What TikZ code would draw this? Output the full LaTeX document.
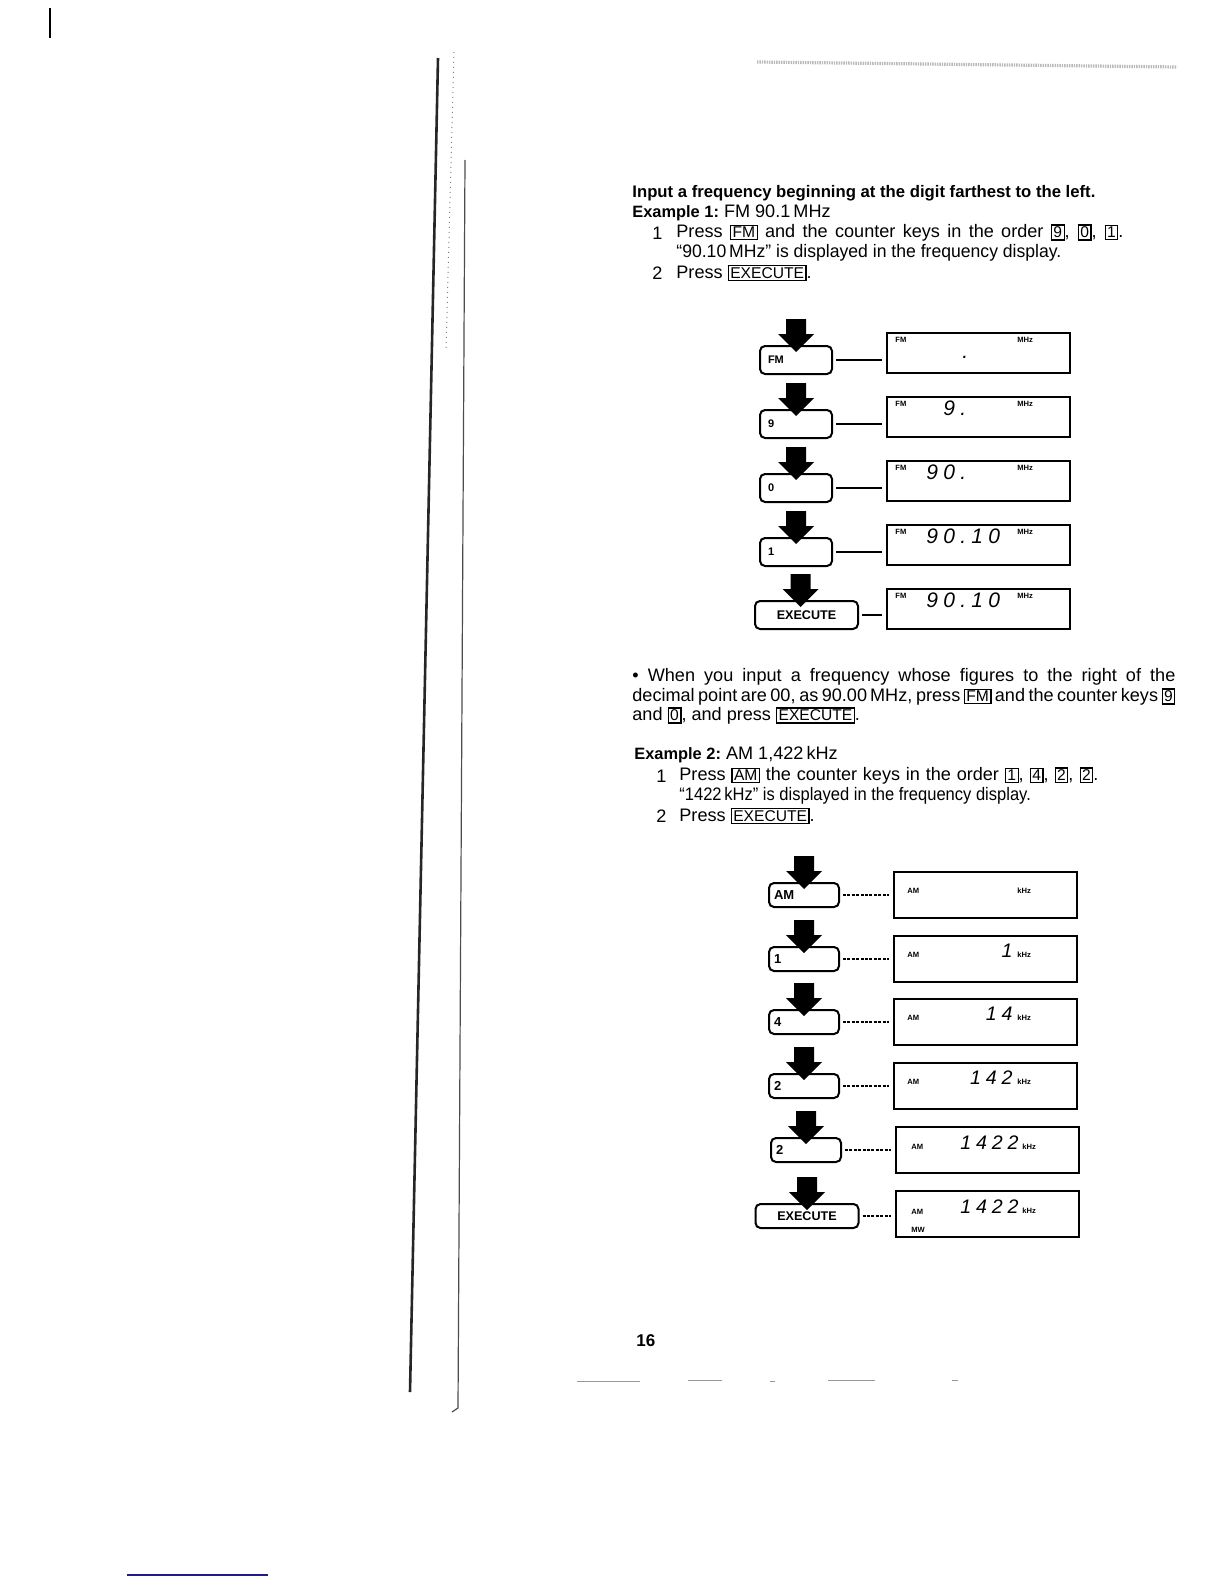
\documentclass[tikz,border=0pt]{standalone}
\usepackage{fontspec}
\usepackage{graphicx}
\setmainfont{Liberation Sans}
\newfontfamily\lcdfont{Liberation Sans}[LetterSpace=25]
\definecolor{inkblue}{RGB}{28,28,140}
\newcommand\body{\fontsize{9.05}{10}\selectfont}
\newcommand\keyb[1]{{\setlength\fboxsep{0.7pt}\setlength\fboxrule{0.6pt}\fbox{\fontsize{7.8}{8}\selectfont#1}}}
\tikzset{
  txt/.style={font=\body, inner sep=0pt, anchor=west},
  capbase/.style={draw, line width=1pt, rounded corners=2.5pt, minimum height=14pt, inner sep=0pt},
  keycap/.style={capbase, minimum width=36pt, text width=28pt, align=left, font=\fontsize{5.5}{6}\selectfont\bfseries},
  amcap/.style={capbase, minimum width=35pt, minimum height=12pt, text width=30pt, align=left, font=\fontsize{6.5}{7}\selectfont\bfseries},
  execcap/.style={capbase, minimum width=51.5pt, font=\fontsize{6.3}{7}\selectfont\bfseries},
  lcdbox/.style={draw, line width=0.75pt, minimum width=91.5pt, minimum height=20pt},
  amlcd/.style={lcdbox, minimum height=23pt},
  lcdtag/.style={anchor=west, inner sep=0pt, font=\fontsize{3.8}{4}\selectfont\bfseries},
  lcdnum/.style={anchor=base west, inner sep=0pt, font=\lcdfont\itshape\fontsize{10.5}{12}\selectfont},
  amnum/.style={anchor=base east, inner sep=0pt, font=\lcdfont\itshape\fontsize{9.8}{11}\selectfont},
  wire/.style={line width=0.6pt, shorten <=1.5pt, shorten >=2pt},
  dotwire/.style={wire, dash pattern=on 1.5pt off 0.7pt},
  pressarrow/.pic={\fill (0,7) -- (-18,-11) -- (-10,-11) -- (-10,-26) -- (10,-26) -- (10,-11) -- (18,-11) -- cycle;}
}
\begin{document}
\begin{tikzpicture}[x=0.5pt, y=-0.5pt]
    \useasboundingbox (0,0) rectangle (1224,1584);
    % edges of the scanned page
    \draw[line width=1.2pt] (50,8) -- (50,38);
    \draw[line width=1.3pt, black!85] (438,58) -- (410,1392);
    \draw[line width=0.5pt, gray, dotted] (454,52) -- (446,350);
    \draw[line width=0.6pt, black!70] (465,160) -- (458,1408) -- (452,1412);
    \draw[gray!55, line width=1.6pt, dash pattern=on 0.7pt off 0.5pt] (757,62) -- (1177,67);
    \draw[gray!80, line width=0.5pt] (577,1381) -- (640,1381) (688,1380) -- (722,1380) (770,1381) -- (775,1381) (828,1380) -- (875,1380) (952,1380) -- (958,1380);
    \draw[line width=0.8pt, inkblue] (127,1575) -- (268,1575);

    % example 1
    \node[txt, font=\fontsize{8.35}{10}\selectfont\bfseries] (head) at (632,193) {Input a frequency beginning at the digit farthest to the left.};
    \node[txt] (ex1) at (632,213) {{\fontsize{8.2}{10}\selectfont\bfseries Example 1:}\ FM 90.1\,MHz};
    \node[txt] (s1) at (652,233) {1};
    \node[txt] (s1a) at (676,233) {\makebox[223.5pt][s]{Press \keyb{FM} and the counter keys in the order \keyb{9}, \keyb{0}, \keyb{1}.}};
    \node[txt] (s1b) at (676,253) {\scalebox{0.972}[1]{“90.10\,MHz” is displayed in the frequency display.}};
    \node[txt] (s2) at (652,273) {2};
    \node[txt] (s2a) at (676,273) {Press \keyb{EXECUTE}.};

    \node[keycap] (kfm) at (796,360) {FM};
    \node[lcdbox] (dfm) at (978.5,353) {};
    \draw[wire] (kfm.east) -- (kfm.east -| dfm.west);
    \pic at (kfm.north) {pressarrow};
    \node[lcdtag] (tfm0) at (895,340) {FM};
    \node[lcdtag] (mhz0) at (1017,340) {MHz};
    \node[lcdnum] (fd0) at (962,358) {.};

    \node[keycap] (k9) at (796,424) {9};
    \node[lcdbox] (d9) at (978.5,417) {};
    \draw[wire] (k9.east) -- (k9.east -| d9.west);
    \pic at (k9.north) {pressarrow};
    \node[lcdtag] (tfm1) at (895,404) {FM};
    \node[lcdtag] (mhz1) at (1017,404) {MHz};
    \node[lcdnum] (fd1) at (943,415) {9.};

    \node[keycap] (k0) at (796,488) {0};
    \node[lcdbox] (d0) at (978.5,481) {};
    \draw[wire] (k0.east) -- (k0.east -| d0.west);
    \pic at (k0.north) {pressarrow};
    \node[lcdtag] (tfm2) at (895,468) {FM};
    \node[lcdtag] (mhz2) at (1017,468) {MHz};
    \node[lcdnum] (fd2) at (926,479) {90.};

    \node[keycap] (k1) at (796,552) {1};
    \node[lcdbox] (d1) at (978.5,545) {};
    \draw[wire] (k1.east) -- (k1.east -| d1.west);
    \pic at (k1.north) {pressarrow};
    \node[lcdtag] (tfm3) at (895,532) {FM};
    \node[lcdtag] (mhz3) at (1017,532) {MHz};
    \node[lcdnum] (fd3) at (926,543) {90.10};

    \node[execcap] (kex) at (806.5,615) {EXECUTE};
    \node[lcdbox] (dex) at (978.5,609) {};
    \draw[wire] (kex.east) -- (kex.east -| dex.west);
    \pic at ([shift={(-6,0)}]kex.north) {pressarrow};
    \node[lcdtag] (tfm4) at (895,596) {FM};
    \node[lcdtag] (mhz4) at (1017,596) {MHz};
    \node[lcdnum] (fd4) at (926,607) {90.10};

    % note
    \node[txt] (note1) at (632,677) {\makebox[271.5pt][s]{• When you input a frequency whose figures to the right of the}};
    \node[txt] (note2) at (632,697) {\makebox[271.5pt][s]{decimal point are 00, as 90.00\,MHz, press \keyb{FM} and the counter keys \keyb{9}}};
    \node[txt] (note3) at (632,716) {and \keyb{0}, and press \keyb{EXECUTE}.};

    % example 2
    \node[txt] (ex2) at (634,755) {{\fontsize{8.2}{10}\selectfont\bfseries Example 2:}\ AM 1,422\,kHz};
    \node[txt] (t1) at (656,776) {1};
    \node[txt] (t1a) at (679,776) {\makebox[209.5pt][s]{Press \keyb{AM} the counter keys in the order \keyb{1}, \keyb{4}, \keyb{2}, \keyb{2}.}};
    \node[txt] (t1b) at (679,796) {\scalebox{0.913}[1]{“1422\,kHz” is displayed in the frequency display.}};
    \node[txt] (t2) at (656,816) {2};
    \node[txt] (t2a) at (679,816) {Press \keyb{EXECUTE}.};

    \node[amcap] (kam) at (804,895) {AM};
    \node[amlcd] (dam) at (985.5,895) {};
    \draw[dotwire] (kam.east) -- (kam.east -| dam.west);
    \pic at (kam.north) {pressarrow};
    \node[lcdtag] (tam0) at (907,891) {AM};
    \node[lcdtag] (khz0) at (1017,891) {kHz};

    \node[amcap] (ka1) at (804,959) {1};
    \node[amlcd] (da1) at (985.5,959) {};
    \draw[dotwire] (ka1.east) -- (ka1.east -| da1.west);
    \pic at (ka1.north) {pressarrow};
    \node[lcdtag] (tam1) at (907,955) {AM};
    \node[amnum] (ad1) at (1013,957) {1};
    \node[lcdtag] (khz1) at (1017,955) {kHz};

    \node[amcap] (ka4) at (804,1022) {4};
    \node[amlcd] (da4) at (985.5,1022) {};
    \draw[dotwire] (ka4.east) -- (ka4.east -| da4.west);
    \pic at (ka4.north) {pressarrow};
    \node[lcdtag] (tam2) at (907,1018) {AM};
    \node[amnum] (ad2) at (1013,1020) {14};
    \node[lcdtag] (khz2) at (1017,1018) {kHz};

    \node[amcap] (ka2) at (804,1086) {2};
    \node[amlcd] (da2) at (985.5,1086) {};
    \draw[dotwire] (ka2.east) -- (ka2.east -| da2.west);
    \pic at (ka2.north) {pressarrow};
    \node[lcdtag] (tam3) at (907,1082) {AM};
    \node[amnum] (ad3) at (1013,1084) {142};
    \node[lcdtag] (khz3) at (1017,1082) {kHz};

    \node[amcap] (kb2) at (806,1150) {2};
    \node[amlcd] (db2) at (987.5,1150) {};
    \draw[dotwire] (kb2.east) -- (kb2.east -| db2.west);
    \pic at (kb2.north) {pressarrow};
    \node[lcdtag] (tam4) at (911,1147) {AM};
    \node[amnum] (ad4) at (1019,1149) {1422};
    \node[lcdtag] (khz4) at (1022,1147) {kHz};

    \node[execcap, minimum height=12pt] (kax) at (807,1216) {EXECUTE};
    \node[amlcd] (dax) at (987.5,1214) {};
    \draw[dotwire] (kax.east) -- (kax.east -| dax.west);
    \pic at (kax.north) {pressarrow};
    \node[lcdtag] (tam5) at (911,1212) {AM};
    \node[lcdtag] (mw5) at (911,1230) {MW};
    \node[amnum] (ad5) at (1019,1213) {1422};
    \node[lcdtag] (khz5) at (1022,1211) {kHz};

    \node[txt, font=\fontsize{8.5}{10}\selectfont\bfseries] (page) at (636,1341) {16};
\end{tikzpicture}
\end{document}
